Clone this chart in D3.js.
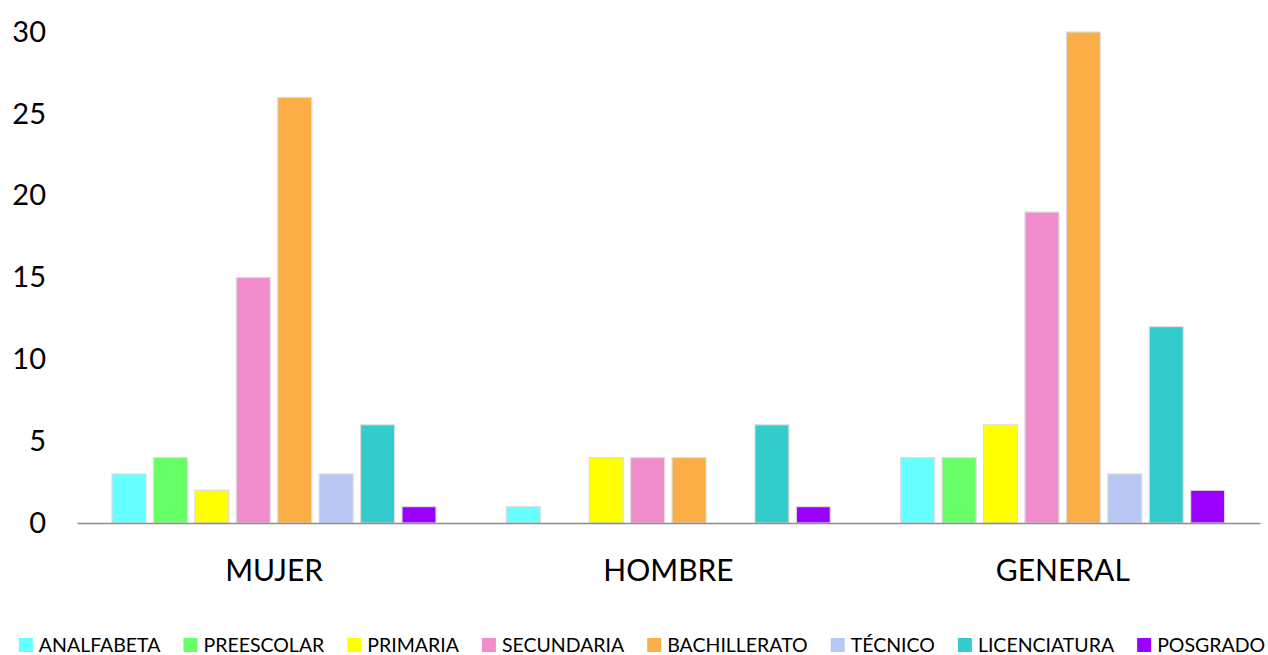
<!DOCTYPE html>
<html><head><meta charset="utf-8">
<script src="https://cdn.jsdelivr.net/npm/d3@7"></script>
<style>body{margin:0;background:#fff}svg{display:block}text{font-family:Lato,"Open Sans",sans-serif;fill:#000}</style>
</head><body>
<script>
const groups = ["MUJER","HOMBRE","GENERAL"];
const series = ["ANALFABETA","PREESCOLAR","PRIMARIA","SECUNDARIA","BACHILLERATO","TÉCNICO","LICENCIATURA","POSGRADO"];
const colors = ["#66FFFF","#66FF66","#FFFF00","#F08CCB","#FBAE45","#B8C8F4","#33CCCC","#9900FF"];
const mujer = [3,4,2,15,26,3,6,1];
const hombre = [1,0,4,4,4,0,6,1];
const general = [4,4,6,19,30,3,12,2];
const yTicks = [0,5,10,15,20,25,30];
const values = [mujer, hombre, general];

const W = 1268, H = 655;
const svg = d3.select("body").append("svg").attr("width", W).attr("height", H);
const x0 = d3.scaleBand().domain(groups).range([77, 1260]).paddingInner(0).paddingOuter(0);
const x1 = d3.scaleBand().domain(series).range([35, 359]).paddingInner(0.179).paddingOuter(0);
const y = d3.scaleLinear().domain([0, 30]).range([523, 32]);

// y tick labels
const yAxis = d3.axisLeft(y).tickValues(yTicks).tickSize(0).tickPadding(0);
const ya = svg.append("g").attr("transform", "translate(46,0)").call(yAxis);
ya.select(".domain").remove();
ya.selectAll("text").style("font-size", "29px").style("font-family", "Lato,'Open Sans',sans-serif").attr("fill", "#000");

// bars
const g = svg.append("g");
groups.forEach((grp, gi) => {
  const gg = g.append("g").attr("transform", `translate(${x0(grp)},0)`);
  gg.selectAll("rect").data(series.map((s, i) => ({s, v: values[gi][i], c: colors[i]})).filter(d => d.v > 0))
    .join("rect")
    .attr("x", d => x1(d.s)).attr("width", x1.bandwidth())
    .attr("y", d => y(d.v)).attr("height", d => y(0) - y(d.v))
    .attr("fill", d => d.c).attr("stroke", "#ddd").attr("stroke-width", 1.2);
});

// x axis
const xAxis = d3.axisBottom(x0).tickSize(0).tickPadding(37);
const xa = svg.append("g").attr("transform", `translate(0,${y(0)})`).call(xAxis);
xa.select(".domain").attr("stroke", "#8c8c8c").attr("stroke-width", 1.5);
xa.selectAll("text").style("font-size", "30px").style("font-family", "Lato,'Open Sans',sans-serif").attr("fill", "#000");

// legend
const leg = svg.append("g").attr("transform", "translate(0,645)");
const items = leg.selectAll("g").data(series).join("g");
items.append("rect").attr("width", 14).attr("height", 14).attr("y", -7).attr("fill", (d, i) => colors[i]);
items.append("text").attr("x", 20).attr("dy", "0.35em").style("font-size", "19.5px").text(d => d);
let xs = 0; const gap = 23; const pos = [];
items.each(function() {
  const w = 20 + d3.select(this).select("text").node().getComputedTextLength();
  pos.push(xs); xs += w + gap;
});
const total = xs - gap, start = (W - total) / 2 + 8;
items.attr("transform", (d, i) => `translate(${start + pos[i]},0)`);
</script>
</body></html>
